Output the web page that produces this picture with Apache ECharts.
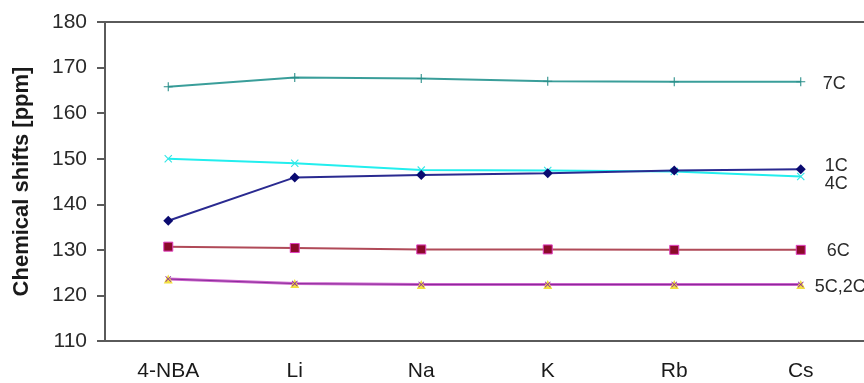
<!DOCTYPE html>
<html>
<head>
<meta charset="utf-8">
<script src="https://cdn.jsdelivr.net/npm/echarts@6/dist/echarts.min.js"></script>
<style>
  html, body { margin: 0; padding: 0; background: #ffffff; }
  #chart { width: 864px; height: 383px; }
</style>
</head>
<body>
<div id="chart"></div>
<script>
// Salts of 4-nitrobenzoic acid (4-NBA) with alkali metals
const categories = ['4-NBA', 'Li', 'Na', 'K', 'Rb', 'Cs'];
const yTicks = [110, 120, 130, 140, 150, 160, 170, 180];

// 13C chemical shifts in ppm, one array per carbon position
const c7 = [165.8, 167.8, 167.6, 167.0, 166.9, 166.9];
const c4 = [150.0, 149.0, 147.5, 147.4, 147.2, 146.1];
const c1 = [136.4, 145.9, 146.4, 146.8, 147.4, 147.7];
const c6 = [130.7, 130.4, 130.1, 130.1, 130.0, 130.0];
const c5 = [123.6, 122.6, 122.4, 122.4, 122.4, 122.4];
const c2 = [123.6, 122.6, 122.4, 122.4, 122.4, 122.4];

const plusPath = 'path://M-0.6,-5H0.6V-0.6H5V0.6H0.6V5H-0.6V0.6H-5V-0.6H-0.6Z';
const crossPath = 'path://M-4,-5L0,-1L4,-5L5,-4L1,0L5,4L4,5L0,1L-4,5L-5,4L-1,0L-5,-4Z';

const FONT = 'Liberation Sans, Arial, sans-serif';
const labelFont = { fontFamily: FONT, fontSize: 18, color: '#2a2a2a' };

function endLabel(text, offset) {
  return Object.assign({ show: true, formatter: text, distance: 22, offset: offset }, labelFont);
}

const chart = echarts.init(document.getElementById('chart'), null, { renderer: 'canvas' });

chart.setOption({
  animation: false,
  backgroundColor: '#ffffff',
  grid: { left: 105, top: 22, bottom: 42, width: 765 },
  xAxis: [
    {
      type: 'category',
      data: categories,
      boundaryGap: true,
      axisLine: { lineStyle: { color: '#5a5a5a', width: 2 } },
      axisTick: { show: false },
      axisLabel: { margin: 20, fontFamily: FONT, fontSize: 21, color: '#1a1a1a' },
      splitLine: { show: false }
    },
    {
      type: 'category',
      data: categories,
      position: 'top',
      axisLine: { lineStyle: { color: '#5a5a5a', width: 2 } },
      axisTick: { show: false },
      axisLabel: { show: false },
      splitLine: { show: false }
    }
  ],
  yAxis: {
    type: 'value',
    min: yTicks[0],
    max: yTicks[yTicks.length - 1],
    interval: 10,
    name: 'Chemical shifts [ppm]',
    nameLocation: 'middle',
    nameGap: 72,
    nameTextStyle: { fontFamily: FONT, fontSize: 22, fontWeight: 'bold', color: '#1a1a1a' },
    axisLine: { show: true, lineStyle: { color: '#5a5a5a', width: 2 } },
    axisTick: { show: true, inside: false, length: 8, lineStyle: { color: '#5a5a5a', width: 2 } },
    axisLabel: { margin: 18, fontFamily: FONT, fontSize: 21, color: '#2a2a2a' },
    splitLine: { show: false }
  },
  series: [
    {
      name: '7C', type: 'line', data: c7,
      lineStyle: { color: '#3a9e9a', width: 2 },
      itemStyle: { color: '#2a8f8a' },
      symbol: plusPath, symbolSize: 9, showAllSymbol: true,
      endLabel: endLabel('7C', [0, 2])
    },
    {
      name: '4C', type: 'line', data: c4,
      lineStyle: { color: '#22eeee', width: 2 },
      itemStyle: { color: '#33e6e6' },
      symbol: crossPath, symbolSize: 8,
      endLabel: endLabel('4C', [2, 8])
    },
    {
      name: '1C', type: 'line', data: c1,
      lineStyle: { color: '#2a2a90', width: 2 },
      itemStyle: { color: '#0a0a70' },
      symbol: 'diamond', symbolSize: 10,
      endLabel: endLabel('1C', [2, -3])
    },
    {
      name: '6C', type: 'line', data: c6,
      lineStyle: { color: '#b04a58', width: 2 },
      itemStyle: { color: '#8b0a2a', borderColor: '#e040c0', borderWidth: 1 },
      symbol: 'rect', symbolSize: 9,
      endLabel: endLabel('6C', [4, 1])
    },
    {
      name: '5C', type: 'line', data: c5,
      lineStyle: { color: '#cc66cc', width: 3 },
      itemStyle: { color: '#f2e040' },
      symbol: 'triangle', symbolSize: 9,
      endLabel: endLabel('5C,2C', [-8, 3])
    },
    {
      name: '2C', type: 'line', data: c2,
      lineStyle: { color: '#8a2a9a', width: 1 },
      itemStyle: { color: '#8a2a9a' },
      symbol: crossPath, symbolSize: 6
    }
  ]
});
</script>
</body>
</html>
